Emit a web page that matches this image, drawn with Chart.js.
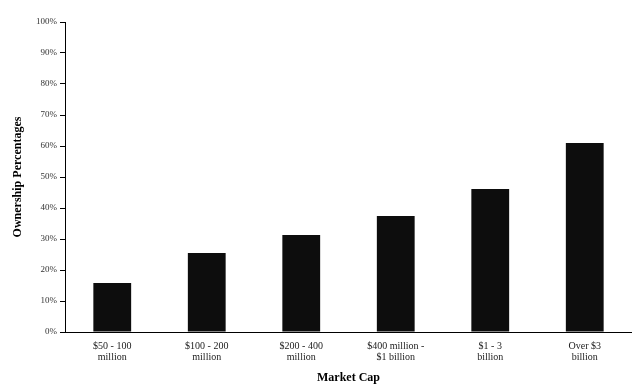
<!DOCTYPE html>
<html>
<head>
<meta charset="utf-8">
<script src="https://cdn.jsdelivr.net/npm/chart.js@4"></script>
<style>
  html, body { margin: 0; padding: 0; background: #fff; }
  #wrap { width: 632px; height: 385px; }
</style>
</head>
<body>
<div id="wrap"><canvas id="ownership-marketcap-barchart"></canvas></div>
<script>
const labelMarketCap = [
  ["$50 - 100", "million"],
  ["$100 - 200", "million"],
  ["$200 - 400", "million"],
  ["$400 million -", "$1 billion"],
  ["$1 - 3", "billion"],
  ["Over $3", "billion"]
];

const ownershipPct = [15.8, 25.5, 31.3, 37.4, 46.1, 61];

const serif = "'Liberation Serif', 'DejaVu Serif', serif";

const dataObj = {
  labels: labelMarketCap,
  datasets: [
    {
      label: "Ownership Percentages",
      data: ownershipPct,
      backgroundColor: "#0d0d0d",
      borderWidth: 0,
      barPercentage: 0.4,
      categoryPercentage: 1.0
    }
  ]
};

new Chart("ownership-marketcap-barchart", {
  type: "bar",
  data: dataObj,
  options: {
    responsive: true,
    maintainAspectRatio: false,
    animation: false,
    layout: { padding: { top: 22, right: 0, left: 0, bottom: 0 } },
    plugins: {
      legend: { display: false },
      tooltip: { enabled: false }
    },
    scales: {
      x: {
        grid: { display: false, drawTicks: false },
        border: { display: true, color: "#000", width: 1 },
        ticks: {
          color: "#222",
          padding: 9,
          maxRotation: 0,
          autoSkip: false,
          font: { family: serif, size: 10, lineHeight: 1.1 }
        },
        title: {
          display: true,
          text: "Market Cap",
          color: "#000",
          font: { family: serif, size: 12, weight: "bold" },
          padding: { top: 7, bottom: 0 }
        },
        afterFit: (scale) => { scale.height = 53; }
      },
      y: {
        min: 0,
        max: 100,
        grid: { drawOnChartArea: false, drawTicks: true, tickLength: 5, color: "#000" },
        border: { display: true, color: "#000", width: 1 },
        ticks: {
          stepSize: 10,
          color: "#333",
          padding: 3,
          font: { family: serif, size: 9 },
          callback: (v) => v + "%"
        },
        title: {
          display: true,
          text: "Ownership Percentages",
          color: "#000",
          font: { family: serif, size: 12, weight: "bold" },
          padding: { top: 11, bottom: 0 }
        },
        afterFit: (scale) => { scale.width = 65; }
      }
    }
  }
});
</script>
</body>
</html>
